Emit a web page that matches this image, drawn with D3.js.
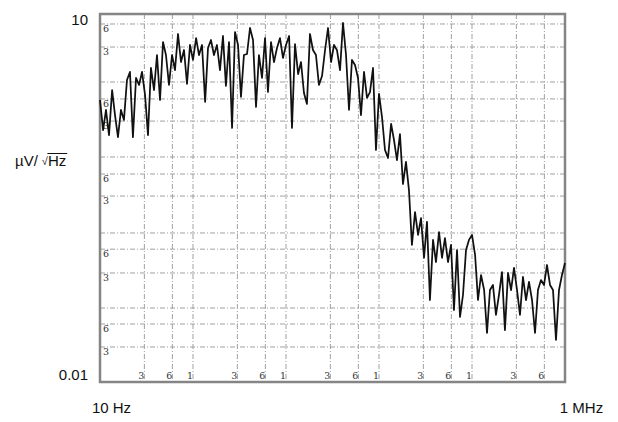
<!DOCTYPE html>
<html>
<head>
<meta charset="utf-8">
<style>
body { margin: 0; background: #fff; }
svg { display: block; font-family: "Liberation Sans", Arial, sans-serif; }
.grid line { stroke: #a0a0a0; stroke-width: 1; stroke-dasharray: 5,2,1,2; }
.frame { fill: none; stroke: #858585; stroke-width: 2.5; }
.trace { fill: none; stroke: #111; stroke-width: 1.75; stroke-linejoin: round; }
.scan { font-family: "DejaVu Serif", serif; font-size: 9.5px; fill: #333; }
.axis text { font-size: 15px; fill: #111; }
.unit { font-size: 15px; fill: #111; }
</style>
</head>
<body>
<svg id="chart" width="618" height="422"></svg>
<script src="https://cdn.jsdelivr.net/npm/d3@7"></script>
<script>
// sweep frequencies, Hz
var freq = [
    10.0, 10.8, 11.6, 12.5, 13.5, 14.5, 15.6, 16.8, 18.1, 19.5, 21.0, 22.6, 24.4, 26.3, 28.3, 30.5,
    32.8, 35.3, 38.1, 41.0, 44.2, 47.6, 51.2, 55.2, 59.5, 64.0, 69.0, 74.3, 80.0, 86.2, 92.8,
    100, 108, 116, 125, 135, 145, 156, 168, 181, 195, 210, 226, 244, 263, 283, 305,
    328, 353, 381, 410, 442, 476, 512, 552, 595, 640, 690, 743, 800, 862, 928,
    1000, 1080, 1160, 1250, 1350, 1450, 1560, 1680, 1810, 1950, 2100, 2260, 2440, 2630, 2830, 3050,
    3280, 3530, 3810, 4100, 4420, 4760, 5120, 5520, 5950, 6400, 6900, 7430, 8000, 8620, 9280,
    10000, 10800, 11600, 12500, 13500, 14500, 15600, 16800, 18100, 19500, 21000, 22600, 24400, 26300, 28300, 30500,
    32800, 35300, 38100, 41000, 44200, 47600, 51200, 55200, 59500, 64000, 69000, 74300, 80000, 86200, 92800,
    100000, 108000, 116000, 125000, 135000, 145000, 156000, 168000, 181000, 195000, 210000, 226000, 244000, 263000, 283000, 305000,
    328000, 353000, 381000, 410000, 442000, 476000, 512000, 552000, 595000, 640000, 690000, 743000, 800000, 862000, 928000,
    1000000
];

// noise density, µV/√Hz
var noise = [
    1.99, 1.13, 1.65, 1.03, 2.40, 1.50, 0.99, 1.65, 1.37, 2.90, 3.37, 0.99, 3.01, 2.64, 3.37, 2.19,
    1.03, 3.63, 2.40, 4.63, 1.99, 5.91, 4.63, 2.64, 4.63, 3.49, 6.87, 4.06, 5.09, 2.69, 5.59,
    4.22, 6.37, 4.63, 5.59, 1.92, 5.28, 6.14, 4.63, 5.59, 3.49, 6.62, 2.59, 5.91, 1.18, 7.13, 5.59,
    2.11, 4.63, 4.72, 7.69, 6.14, 1.75, 4.63, 3.01, 6.37, 2.31, 5.91, 4.06, 5.28, 6.37, 4.38,
    5.59, 6.62, 1.18, 5.69, 3.24, 4.06, 2.27, 1.85, 6.87, 5.09, 4.63, 2.64, 3.12, 5.09, 7.69, 4.06,
    5.59, 5.09, 3.49, 8.45, 4.63, 1.65, 4.22, 3.84, 3.01, 1.50, 3.37, 2.07, 2.31, 3.63, 0.779,
    2.23, 1.42, 0.779, 0.670, 1.27, 0.939, 0.645, 1.05, 0.411, 0.622, 0.367, 0.131, 0.243, 0.158, 0.217, 0.103,
    0.202, 0.0466, 0.144, 0.0951, 0.167, 0.103, 0.149, 0.0951, 0.131, 0.0386, 0.119, 0.0339, 0.0512, 0.119, 0.144,
    0.158, 0.108, 0.0466, 0.0745, 0.0562, 0.0251, 0.0562, 0.0618, 0.0352, 0.0512, 0.0788, 0.0265, 0.0774, 0.0562, 0.0850, 0.0562,
    0.0352, 0.0718, 0.0466, 0.0654, 0.0466, 0.0251, 0.0562, 0.0678, 0.0618, 0.0899, 0.0618, 0.0562, 0.0220, 0.0562, 0.0745,
    0.0934
];

// the printed grid of the plotter paper
var gridFreq = [30, 60, 100, 300, 600, 1000, 3000, 6000, 10000, 30000, 60000, 100000, 300000, 600000];
var gridFreqLabels = ["3", "6", "1", "3", "6", "1", "3", "6", "1", "3", "6", "1", "3", "6"];
var gridLevel = [8.29, 5.38, 2.79, 2.03, 1.34, 0.683, 0.496, 0.328, 0.164, 0.121, 0.0774, 0.0401, 0.0297, 0.0193];
var gridLevelLabels = ["6", "3", "", "6", "3", "", "6", "3", "", "6", "3", "", "6", "3"];

var levelTicks = [0.01, 10];
var levelTickLabels = ["0.01", "10"];
var freqTicks = [10, 1e6];
var freqTickLabels = ["10 Hz", "1 MHz"];

var spectrum_chart = (function(d3) {
    var module = {}
        , svg
        , margin
        , width
        , height
        , g
        , x
        , y
        , line
        ;

    module.init = function(_) {
        svg = d3.select(_);
        margin = {top: 14, right: 53, bottom: 40, left: 100};
        width = svg.attr("width") - margin.left - margin.right;
        height = svg.attr("height") - margin.top - margin.bottom;
        g = svg.append("g").attr("transform", "translate(" + margin.left + "," + margin.top + ")");

        x = d3.scaleLog().domain([10, 1e6]).range([0, width]);
        y = d3.scaleLog().domain([0.01, 10]).range([height, 0]);

        line = d3.line()
            .x(function(d) { return x(d[0]); })
            .y(function(d) { return y(d[1]); });

        var grid = g.append("g").attr("class", "grid");
        grid.selectAll("line.v")
            .data(gridFreq)
            .enter().append("line")
            .attr("class", "v")
            .attr("x1", x).attr("x2", x)
            .attr("y1", 0).attr("y2", height);
        grid.selectAll("line.h")
            .data(gridLevel)
            .enter().append("line")
            .attr("class", "h")
            .attr("x1", 0).attr("x2", width)
            .attr("y1", y).attr("y2", y);

        g.append("g").selectAll("text")
            .data(gridFreq)
            .enter().append("text")
            .attr("class", "scan")
            .attr("text-anchor", "middle")
            .attr("x", function(d) { return x(d) - 3; })
            .attr("y", height - 3)
            .text(function(d, i) { return gridFreqLabels[i]; });

        g.append("g").selectAll("text")
            .data(gridLevel)
            .enter().append("text")
            .attr("class", "scan")
            .attr("x", 3)
            .attr("y", function(d) { return y(d) + 8; })
            .text(function(d, i) { return gridLevelLabels[i]; });

        g.append("rect")
            .attr("class", "frame")
            .attr("width", width)
            .attr("height", height);

        var ay = g.append("g")
            .attr("class", "axis axis--y")
            .call(d3.axisLeft(y).tickValues(levelTicks).tickSize(0).tickPadding(12)
                .tickFormat(function(d, i) { return levelTickLabels[i]; }));
        ay.select(".domain").remove();
        ay.selectAll("text").attr("y", function(d) { return d === 10 ? 6 : -7; });

        var ax = g.append("g")
            .attr("class", "axis axis--x")
            .attr("transform", "translate(0," + height + ")")
            .call(d3.axisBottom(x).tickValues(freqTicks).tickSize(0).tickPadding(20)
                .tickFormat(function(d, i) { return freqTickLabels[i]; }));
        ax.select(".domain").remove();
        ax.selectAll("text").attr("x", function(d) { return d === 10 ? 11 : 16; });

        // µV/√Hz
        var unit = svg.append("g").attr("class", "unit").attr("transform", "translate(15,166)");
        var t1 = unit.append("text").text("µV/");
        var w1 = t1.node().getComputedTextLength() + 4;
        var rad = unit.append("text").attr("x", w1).attr("y", -1).style("font-size", "11px").text("√");
        var w2 = w1 + rad.node().getComputedTextLength();
        var hz = unit.append("text").attr("x", w2).text("Hz");
        var w3 = w2 + hz.node().getComputedTextLength();
        unit.append("line")
            .attr("x1", w2 - 0.5).attr("x2", w3 + 1)
            .attr("y1", -12.5).attr("y2", -12.5)
            .attr("stroke", "#111").attr("stroke-width", 1);
    };

    module.draw = function(data) {
        g.append("path")
            .datum(data)
            .attr("class", "trace")
            .attr("d", line);
    };

    return module;
})(d3);

spectrum_chart.init("#chart");
spectrum_chart.draw(d3.zip(freq, noise));
</script>
</body>
</html>
